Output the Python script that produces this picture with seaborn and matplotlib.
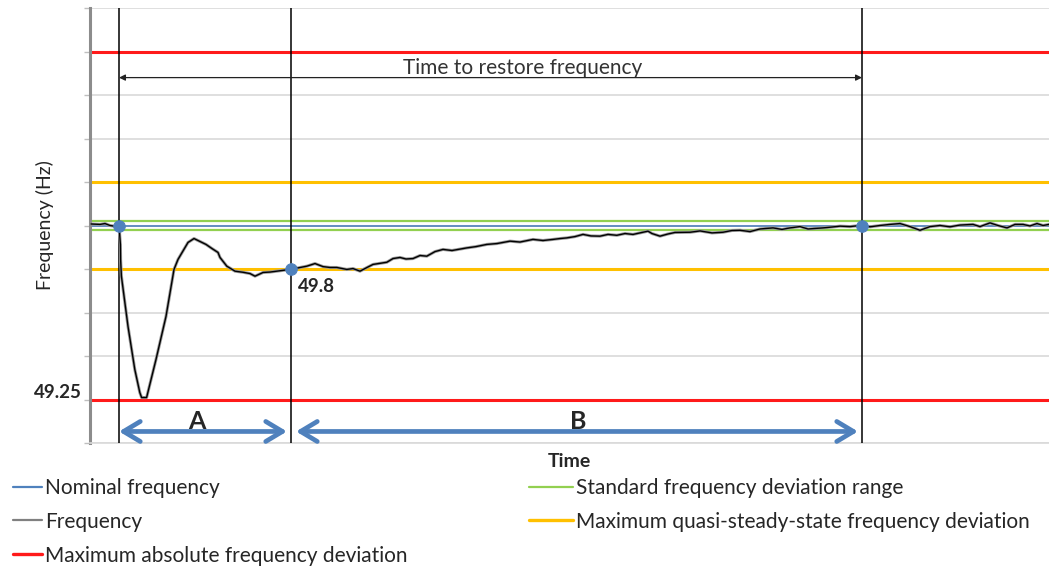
import matplotlib
matplotlib.use("Agg")
import matplotlib.pyplot as plt
from matplotlib.lines import Line2D
import numpy as np
import pandas as pd
import seaborn as sns

# frequency trace (time in s, frequency in Hz)
time_s = [0.5, 5, 7.5, 10, 13.5, 14.5, 15.2, 15.3, 15.7, 19, 22.4, 24.9, 25.8, 28.3,
          33, 38, 42, 44, 49, 52, 54, 58, 61, 64, 65, 68.4, 72.5, 76.5, 80, 82.5,
          86.5, 90, 93.4, 100, 104, 108.4, 112.5, 116.5, 120, 123.4, 128.4, 131.5,
          135, 138.5, 141.5, 148.4, 151.5, 155, 158, 161.5, 165, 168.4, 172.5, 176.5,
          181, 188.4, 193, 198.4, 203.5, 210, 215, 221.5, 226.5, 231.5, 235, 238.4,
          242.5, 246.5, 250.5, 255, 259, 263.4, 267.5, 271.5, 275, 279, 281, 285,
          289, 292.5, 300, 305, 311, 316.5, 321, 325, 330, 335, 341.5, 346, 350,
          355, 359, 366.5, 371, 375, 380, 385, 390, 395, 400, 405, 410, 415, 420,
          425, 430, 435, 441.5, 445, 450, 454, 458.5, 462.5, 466.5, 470, 473.5,
          476.5, 479.5]
freq_hz = [50.007, 50.005, 50.009, 50.0, 49.995, 50.0, 49.913, 49.844, 49.767, 49.536,
           49.338, 49.232, 49.209, 49.209, 49.384, 49.582, 49.798, 49.844, 49.922,
           49.940, 49.931, 49.913, 49.894, 49.876, 49.853, 49.813, 49.790, 49.785,
           49.779, 49.767, 49.784, 49.786, 49.790, 49.798, 49.805, 49.813, 49.825,
           49.811, 49.807, 49.807, 49.798, 49.802, 49.790, 49.807, 49.821, 49.831,
           49.848, 49.853, 49.846, 49.848, 49.862, 49.859, 49.880, 49.890, 49.885,
           49.897, 49.903, 49.913, 49.917, 49.928, 49.924, 49.936, 49.931, 49.936,
           49.940, 49.943, 49.949, 49.959, 49.952, 49.951, 49.959, 49.955, 49.963,
           49.959, 49.966, 49.974, 49.963, 49.951, 49.961, 49.968, 49.969, 49.975,
           49.966, 49.969, 49.977, 49.978, 49.972, 49.984, 49.989, 49.982, 49.989,
           49.995, 49.984, 49.989, 49.993, 49.997, 49.995, 50.0, 49.994, 50.0, 50.005,
           50.009, 49.995, 49.978, 49.995, 50.0, 49.994, 50.002, 50.005, 49.995,
           50.012, 50.0, 49.989, 50.005, 50.005, 49.998, 50.009, 50.0, 50.005]

# reference levels (Hz)
nominal = 50.0
standard_band = [49.98, 50.02]
quasi_steady = [49.8, 50.2]
max_abs = [49.2, 50.8]

# event times (s) and marked points
event_t = [14.5, 100.5, 386]
event_f = [50.0, 49.8, 50.0]
t_max = 479.5

c_blue = "#4f81bd"
c_green = "#92d050"
c_orange = "#ffc000"
c_red = "#ff1a1a"

sns.set_theme(style="whitegrid")
plt.rcParams["font.family"] = ["Lato", "DejaVu Sans"]

fig = plt.figure(figsize=(10.49, 5.68), dpi=100)
ax = fig.add_axes([90 / 1049, 1 - 443 / 568, 1 - 90 / 1049, 435 / 568])

trace = pd.DataFrame({"t": time_s, "f": freq_hz})
sns.lineplot(data=trace, x="t", y="f", ax=ax, color="#9a9a9a", lw=2.2, zorder=4)
sns.lineplot(data=trace, x="t", y="f", ax=ax, color="black", lw=1.0, zorder=5)
sns.scatterplot(x=event_t, y=event_f, ax=ax, color=c_blue, s=70, edgecolor=c_blue,
                zorder=6)

ax.set_xlim(0, t_max)
ax.set_ylim(49.0, 51.0)
ax.set_yticks(np.arange(49.0, 51.01, 0.2))
ax.set_xticks([])
ax.yaxis.set_ticklabels([])
ax.grid(axis="y", color="#d9d9d9", lw=1.2)
ax.grid(axis="x", visible=False)
for s in ["top", "right"]:
    ax.spines[s].set_visible(False)
ax.spines["left"].set_color("#8c8c8c")
ax.spines["left"].set_linewidth(2.2)
ax.spines["bottom"].set_color("#d9d9d9")
ax.spines["bottom"].set_linewidth(1.2)
ax.tick_params(axis="y", left=True, length=4, width=1, color="#bfbfbf", pad=0)

for y in max_abs:
    ax.axhline(y, color=c_red, lw=2.2, zorder=2)
for y in quasi_steady:
    ax.axhline(y, color=c_orange, lw=2.2, zorder=2)
for y in standard_band:
    ax.axhline(y, color=c_green, lw=1.6, zorder=2)
ax.axhline(nominal, color=c_blue, lw=1.2, zorder=2)

for t in event_t:
    ax.axvline(t, color="black", lw=1.1, zorder=3)

# time to restore frequency
ax.annotate("", xy=(event_t[0], 50.68), xytext=(event_t[2], 50.68),
            arrowprops=dict(arrowstyle="<|-|>", color="#222222", lw=0.9,
                            mutation_scale=9, shrinkA=0, shrinkB=0), zorder=6)
ax.text((event_t[0] + event_t[2]) / 2 + 16, 50.676, "Time to restore frequency",
        ha="center", va="bottom", fontsize=15, color="#333333")

# A / B spans
ax.annotate("", xy=(event_t[0], 49.053), xytext=(event_t[1] - 2, 49.053),
            arrowprops=dict(arrowstyle="<->,head_length=1.0,head_width=0.6",
                            color=c_blue, lw=3.4, shrinkA=0, shrinkB=0), zorder=6)
ax.annotate("", xy=(event_t[1] + 2.5, 49.053), xytext=(event_t[2] - 2, 49.053),
            arrowprops=dict(arrowstyle="<->,head_length=1.0,head_width=0.6",
                            color=c_blue, lw=3.4, shrinkA=0, shrinkB=0), zorder=6)
ax.text(53.5, 49.1, "A", ha="center", va="center", fontsize=18, fontweight="bold")
ax.text(244, 49.1, "B", ha="center", va="center", fontsize=18, fontweight="bold")

ax.text(104, 49.72, "49.8", ha="left", va="center", fontsize=13.5, fontweight="bold")
ax.text(-4, 49.23, "49.25", ha="right", va="center", fontsize=13.5,
        fontweight="bold", clip_on=False)

ax.set_xlabel("")
ax.set_ylabel("Frequency (Hz)", fontsize=14, labelpad=22)
ax.text(0.5, -0.022, "Time", transform=ax.transAxes, ha="center", va="top",
        fontsize=14, fontweight="bold")

h1 = [Line2D([], [], color=c_blue, lw=1.6),
      Line2D([], [], color="#808080", lw=1.6),
      Line2D([], [], color=c_red, lw=2.4)]
l1 = ["Nominal frequency", "Frequency", "Maximum absolute frequency deviation"]
h2 = [Line2D([], [], color=c_green, lw=1.6),
      Line2D([], [], color=c_orange, lw=2.4)]
l2 = ["Standard frequency deviation range",
      "Maximum quasi-steady-state frequency deviation"]
leg_kw = dict(loc="upper left", frameon=False, fontsize=15, handletextpad=0.15,
              labelspacing=0.66, borderaxespad=0, borderpad=0)
fig.legend(h1, l1, bbox_to_anchor=(13 / 1049, 1 - 478 / 568), handlelength=1.4,
           **leg_kw)
fig.legend(h2, l2, bbox_to_anchor=(529 / 1049, 1 - 478 / 568), handlelength=2.1,
           **leg_kw)

fig.savefig("out.png", dpi=100)
